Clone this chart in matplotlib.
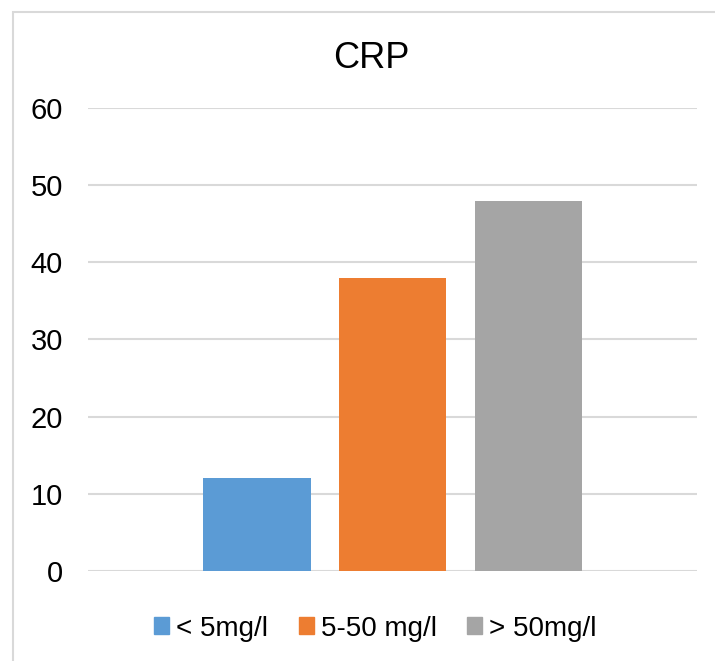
import matplotlib.pyplot as plt
from matplotlib.patches import Rectangle, Patch

plt.rcParams['font.family'] = ['Liberation Sans', 'DejaVu Sans']

labels = ['< 5mg/l', '5-50 mg/l', '> 50mg/l']
values = [12, 38, 48]
colors = ['#5b9bd5', '#ed7d31', '#a5a5a5']
yticks = [0, 10, 20, 30, 40, 50, 60]

fig = plt.figure(figsize=(7.15, 6.61), dpi=100)
ax = fig.add_axes([0.123, 0.1362, 0.852, 0.7004])

step = 0.2225
width = 0.1757
for i, (lab, v, c) in enumerate(zip(labels, values, colors)):
    ax.bar(0.5 + (i - 1) * step, v, width=width, color=c, label=lab, zorder=3)

ax.set_xlim(0, 1)
ax.set_ylim(0, 60)
ax.set_yticks(yticks)
ax.set_xticks([])
ax.grid(axis='y', color='#d9d9d9', lw=1.5, zorder=0)
for s in ax.spines.values():
    s.set_visible(False)
ax.tick_params(axis='y', length=0, pad=18, labelsize=21, labelcolor='#000000')

fig.text(0.5196, 0.897, 'CRP', ha='center', va='baseline', fontsize=26)

handles = [Patch(color=c, label=l) for l, c in zip(labels, colors)]
fig.legend(handles=handles, loc='center', bbox_to_anchor=(0.525, 0.049), ncol=3,
           frameon=False, fontsize=20, handlelength=0.54, handleheight=0.54,
           handletextpad=0.25, columnspacing=1.1, borderpad=0, borderaxespad=0)

# outer chart border
fig.patches.append(Rectangle((0.018, -0.1), 1.1, 1.082, transform=fig.transFigure,
                             fill=False, edgecolor='#d9d9d9', lw=1.5))

fig.savefig('out.png', dpi=100)
